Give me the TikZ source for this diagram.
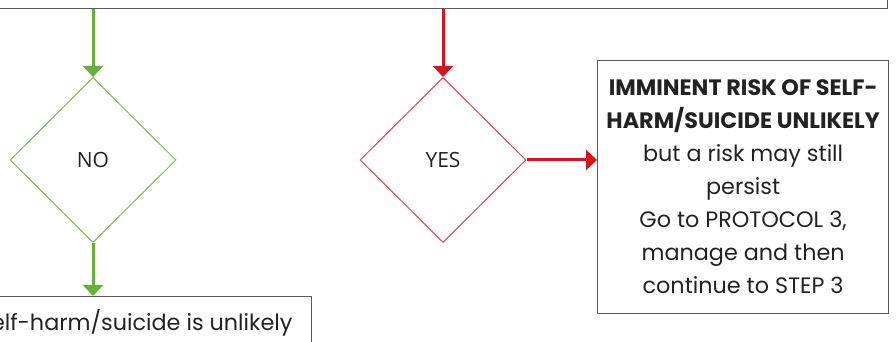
\documentclass[tikz,border=0pt]{standalone}
\usepackage{fontspec}
\setmainfont{Poppins}
\newfontfamily\diafont{Open Sans}
\usetikzlibrary{arrows.meta,positioning,shapes.geometric}
\definecolor{yesred}{RGB}{208,22,30}
\definecolor{nogreen}{RGB}{106,175,59}
\definecolor{boxgray}{RGB}{90,90,90}
\definecolor{txt}{RGB}{34,34,34}

\begin{document}
\begin{tikzpicture}[x=1pt,y=1pt,
    box/.style={draw=boxgray,line width=1.3pt,inner sep=0pt},
    choice/.style={diamond,draw,line width=1pt,aspect=1,minimum width=166pt,minimum height=165pt,inner sep=0pt,font=\diafont\fontsize{21}{24}\selectfont,text=txt},
    flow/.style={line width=3pt,-{Triangle[width=20pt,length=11pt]}}]
    \useasboundingbox (0,0) rectangle (896,342);
    \clip (0,0) rectangle (896,342);
    % boxes
    \node[box,anchor=south east,minimum width=1000pt,minimum height=60pt] (question) at (888,333) {};
    \node[choice,draw=nogreen!85!white] (no) at (93,182) {NO};
    \node[choice,draw=yesred!80!white] (yes) at (443,182) {YES};
    \node[box,anchor=north west,minimum width=291pt,minimum height=253pt] (risk) at (597,282) {};
    \node[align=center,font=\fontsize{22.3}{33}\selectfont,text=txt] (risktext) at (risk.center)
        {\textbf{IMMINENT RISK OF SELF-}\\\textbf{HARM/SUICIDE UNLIKELY}\\but a risk may still\\persist\\ Go to PROTOCOL 3,\\manage and then\\continue to STEP 3};
    \node[box,anchor=north east,minimum width=400pt,minimum height=80pt] (unlikely) at (312,46) {};
    \node[anchor=base east,font=\fontsize{22.3}{33}\selectfont,text=txt] (unlikelytext) at (296,11) {self-harm/suicide is unlikely};
    % arrows
    \draw[flow,nogreen] (question.south -| no) -- (no.north);
    \draw[flow,nogreen] (no.south) -- (unlikely.north -| no);
    \draw[flow,yesred] (question.south -| yes) -- (yes.north);
    \draw[flow,yesred] (yes.east) -- (yes.east -| risk.west);
\end{tikzpicture}
\end{document}
